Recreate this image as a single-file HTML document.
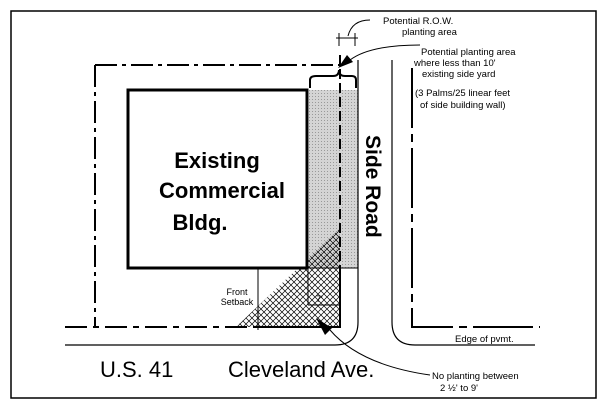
<!DOCTYPE html>
<html><head><style>
body{margin:0;background:#fff;}
svg{display:block;}
text{font-family:"Liberation Sans",sans-serif;fill:#000;}
</style></head><body>
<svg width="603" height="409" viewBox="0 0 603 409" xmlns="http://www.w3.org/2000/svg">
<defs>
<pattern id="hatch" width="6" height="6" patternUnits="userSpaceOnUse">
<path d="M0 0L6 6M6 0L0 6" stroke="#000" stroke-width="0.7"/>
</pattern>
<pattern id="dots" width="3" height="3" patternUnits="userSpaceOnUse">
<rect width="3" height="3" fill="#d4d4d4"/><rect width="1" height="1" fill="#999"/>
</pattern>
</defs>
<rect x="11" y="11" width="585" height="387" fill="none" stroke="#000" stroke-width="1.5"/>
<!-- shaded area -->
<rect x="309" y="90" width="49" height="178" fill="url(#dots)"/>
<!-- crosshatch triangle -->
<polygon points="236,327 340,228 340,327" fill="url(#hatch)"/>
<!-- building -->
<rect x="128" y="90" width="179" height="178" fill="#fff" stroke="#000" stroke-width="3"/>
<line x1="307" y1="268" x2="358" y2="268" stroke="#000" stroke-width="1"/>
<!-- property lines -->
<path d="M95 65H340" stroke="#000" stroke-width="2" stroke-dasharray="22,5,4,5" fill="none"/>
<path d="M95 65V328" stroke="#000" stroke-width="2" stroke-dasharray="22,5,4,5" fill="none"/>
<path d="M65 327H340" stroke="#000" stroke-width="2" stroke-dasharray="22,6,6,6" fill="none"/>
<path d="M340 55V327" stroke="#000" stroke-width="2" stroke-dasharray="10,4"/>
<path d="M340 268V327H258" stroke="#000" stroke-width="2" fill="none"/>
<!-- front setback dims -->
<line x1="258" y1="268" x2="258" y2="330" stroke="#000" stroke-width="1"/>
<line x1="308" y1="268" x2="308" y2="305" stroke="#000" stroke-width="1"/>
<line x1="308" y1="305" x2="340" y2="305" stroke="#000" stroke-width="1"/>
<text x="316" y="302" font-size="9">7'</text>
<!-- road curbs -->
<path d="M358 60V322Q358 345 335 345H65" stroke="#000" stroke-width="1.2" fill="none"/>
<path d="M392 60V322Q392 345 415 345H535" stroke="#000" stroke-width="1.2" fill="none"/>
<path d="M412 68V327H540" stroke="#000" stroke-width="2" stroke-dasharray="60,6,8,6" fill="none"/>
<!-- brace -->
<path d="M310 88V80Q310 76 316 76H333Q339 76 339 70Q339 76 345 76H352Q356 76 356 80V88" stroke="#000" stroke-width="2" fill="none"/>
<!-- ROW dim -->
<line x1="339" y1="33" x2="339" y2="46" stroke="#000"/>
<line x1="355" y1="33" x2="355" y2="46" stroke="#000"/>
<line x1="336" y1="38" x2="358" y2="38" stroke="#000"/>
<path d="M348 36Q352 20 370 20" stroke="#000" fill="none"/>
<!-- arrows -->
<path d="M420 45Q370 45 350 60" stroke="#000" fill="none"/>
<polygon points="338,68 347,55 353,62" fill="#000"/>
<path d="M430 375Q360 365 330 330" stroke="#000" fill="none"/>
<polygon points="316,318 332,328 325,335" fill="#000"/>
<!-- labels -->
<text x="383" y="24" font-size="9.5">Potential R.O.W.</text>
<text x="402" y="35" font-size="9.5">planting area</text>
<text x="421" y="55" font-size="9.5">Potential planting area</text>
<text x="414" y="66" font-size="9.5">where less than 10'</text>
<text x="422" y="77" font-size="9.5">existing side yard</text>
<text x="415" y="96" font-size="9.5">(3 Palms/25 linear feet</text>
<text x="420" y="108" font-size="9.5">of side building wall)</text>
<text x="217" y="168" font-size="22" font-weight="bold" text-anchor="middle">Existing</text>
<text x="222" y="198" font-size="22" font-weight="bold" text-anchor="middle">Commercial</text>
<text x="200" y="230" font-size="22" font-weight="bold" text-anchor="middle">Bldg.</text>
<text transform="translate(366,135) rotate(90)" font-size="21" font-weight="bold">Side Road</text>
<text x="237" y="295" font-size="9" text-anchor="middle">Front</text>
<text x="237" y="305" font-size="9" text-anchor="middle">Setback</text>
<text x="455" y="342" font-size="9.5">Edge of pvmt.</text>
<text x="100" y="377" font-size="22">U.S. 41</text>
<text x="228" y="377" font-size="22">Cleveland Ave.</text>
<text x="432" y="379" font-size="9.5">No planting between</text>
<text x="440" y="391" font-size="9.5">2 ½' to 9'</text>
</svg>
</body></html>
